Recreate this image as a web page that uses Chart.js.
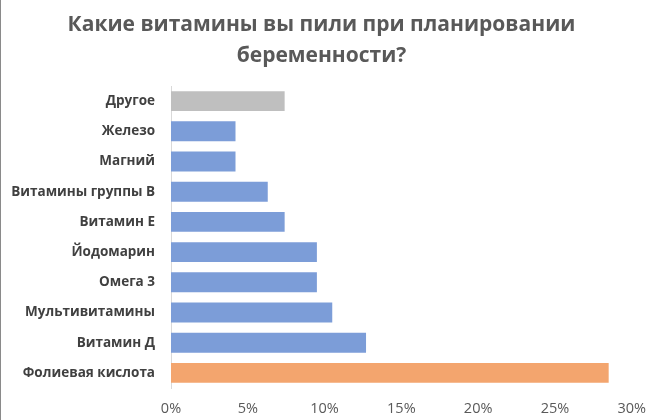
<!DOCTYPE html>
<html>
<head>
<meta charset="utf-8">
<script src="https://cdn.jsdelivr.net/npm/chart.js@4"></script>
<style>
  body { margin: 0; background: #fff; }
  #wrap { width: 649px; height: 420px; border-left: 1px solid #8a8a8a; }
</style>
</head>
<body>
<div id="wrap"><canvas id="vitChart" width="649" height="420"></canvas></div>
<script>
// answers, top to bottom as in the picture
const categories = ['Другое', 'Железо', 'Магний', 'Витамины группы В', 'Витамин Е',
  'Йодомарин', 'Омега 3', 'Мультивитамины', 'Витамин Д', 'Фолиевая кислота'];
const shares = [7.4, 4.2, 4.2, 6.3, 7.4, 9.5, 9.5, 10.5, 12.7, 28.5];
const barColors = ['#bfbfbf', '#7c9dd8', '#7c9dd8', '#7c9dd8', '#7c9dd8',
  '#7c9dd8', '#7c9dd8', '#7c9dd8', '#7c9dd8', '#f3a56e'];
const xTicks = [0, 5, 10, 15, 20, 25, 30];

const ctx = document.getElementById('vitChart');

new Chart(ctx, {
  type: 'bar',
  data: {
    labels: categories,
    datasets: [{
      data: shares,
      backgroundColor: barColors,
      barPercentage: 0.66,
      categoryPercentage: 1
    }]
  },
  options: {
    indexAxis: 'y',
    responsive: false,
    animation: false,
    layout: { padding: { left: 0, right: 8, top: 0, bottom: 0 } },
    plugins: {
      legend: { display: false },
      tooltip: { enabled: false },
      title: {
        display: true,
        text: ['Какие витамины вы пили при планировании', 'беременности?'],
        color: '#595959',
        font: { family: 'Open Sans', size: 21, weight: 'bold', lineHeight: 1.5 },
        padding: { top: 9, bottom: 14 }
      }
    },
    scales: {
      x: {
        min: 0,
        max: 30,
        grid: { display: false },
        border: { display: false },
        afterBuildTicks: (scale) => { scale.ticks = xTicks.map(v => ({ value: v })); },
        afterFit: (scale) => { scale.height = 32; },
        ticks: {
          padding: 4,
          color: '#595959',
          font: { family: 'Open Sans', size: 14.5 },
          callback: (v) => v + '%'
        }
      },
      y: {
        grid: { display: false },
        border: { display: true, color: '#d9d9d9' },
        afterFit: (scale) => { scale.width = 170; },
        ticks: {
          padding: 8,
          color: '#404040',
          font: { family: 'Open Sans', size: 13.5, weight: 'bold' }
        }
      }
    }
  }
});
</script>
</body>
</html>
